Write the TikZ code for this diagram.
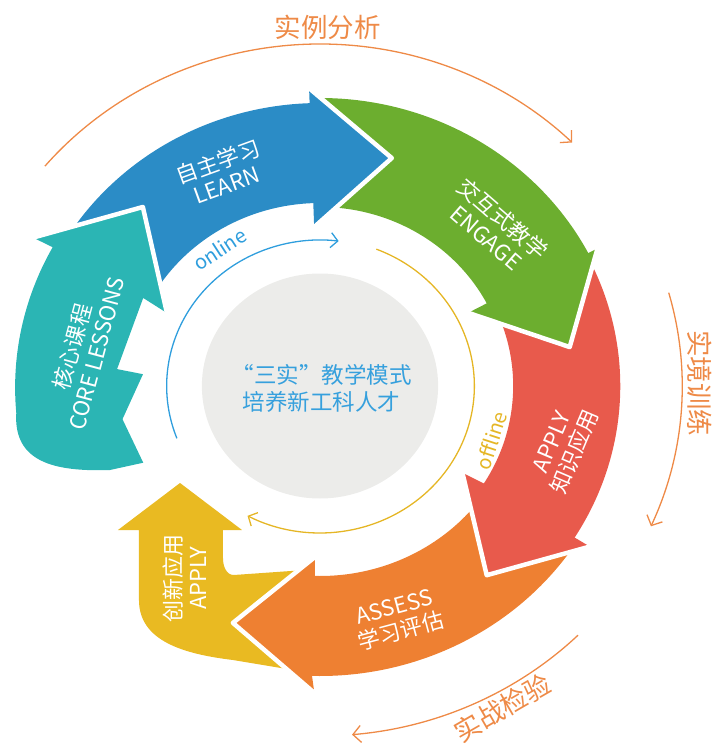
\documentclass[tikz,border=0pt]{standalone}
\usepackage{fontspec}
\setmainfont{Noto Sans CJK SC}
\usetikzlibrary{arrows.meta}

\definecolor{learnblue}{HTML}{2B8CC6}
\definecolor{engagegreen}{HTML}{6CAE2F}
\definecolor{applyred}{HTML}{E85A4C}
\definecolor{assessorange}{HTML}{EE8032}
\definecolor{createyellow}{HTML}{E9BA22}
\definecolor{coreteal}{HTML}{2BB5B4}
\definecolor{loopor}{HTML}{EE8A47}
\definecolor{onblue}{HTML}{2F9EDD}
\definecolor{offyellow}{HTML}{E5B625}
\definecolor{midtext}{HTML}{36A0DD}
\definecolor{midgrey}{HTML}{ECECEA}

\tikzset{
  gap/.style={draw=white, line width=4.5pt, line join=round, line cap=round},
  lbl/.style={text=white, font=\fontsize{22}{25}\selectfont, align=center, inner sep=0pt},
  looparc/.style={draw=loopor, line width=1.3pt, -{Straight Barb[length=8pt,width=17pt]}},
  looplbl/.style={text=loopor, font=\fontsize{26.5}{28}\selectfont, inner sep=0pt},
  modearc/.style={line width=1.3pt, -{Straight Barb[length=7pt,width=15pt]}},
  modelbl/.style={font=\fontsize{20}{22}\selectfont, inner sep=0pt},
}

\begin{document}
\begin{tikzpicture}[x=1.05pt, y=1pt]
    \useasboundingbox (-304.76,-359) rectangle (380,386);

    % middle disc
    \fill[midgrey] (0,0) circle[radius=112.5];
    \node (centre) [text=midtext, font=\fontsize{22.5}{27}\selectfont, align=left, inner sep=0pt] at (7,-2) {\kern-0.5em“三实”教学模式\\培养新工科人才};

    % arrow bodies
    \fill[learnblue] (151:283) arc[start angle=151, end angle=90.5, radius=283] -- (90.5:183) arc[start angle=90.5, end angle=151, radius=183] -- cycle;
    \fill[engagegreen] (91:288) arc[start angle=91, end angle=26, radius=288] -- (26:179) arc[start angle=26, end angle=91, radius=179] -- cycle;
    \fill[applyred] (26.5:286) arc[start angle=26.5, end angle=-33.5, radius=286] -- (-33.5:184) arc[start angle=-33.5, end angle=26.5, radius=184] -- cycle;
    \fill[assessorange] (-33:290) arc[start angle=-33, end angle=-93, radius=290] -- (-93:190) arc[start angle=-93, end angle=-33, radius=190] -- cycle;
    \fill[createyellow] (-14.3,-184) -- (-82,-189) to[out=180, in=-90] (-92.4,-172) -- (-92.4,-144) -- (-74.3,-144)
        -- (-133.3,-97) -- (-192.4,-144) -- (-172.4,-144) -- (-172.4,-214)
        .. controls (-172.4,-255) and (-130,-268) .. (-82.9,-274) -- (-14.3,-286) -- cycle;
    \fill[coreteal] (204.5:185) -- (190:191) -- (176:169) -- (175:194) -- (152.4:190) -- (153.4:163)
        -- (133.3:246) -- (151.5:311) -- (151.4:290) arc[start angle=151.4, end angle=185, radius=293]
        .. controls (-292,-75) and (-255,-86) .. (-200,-84) -- cycle;

    % arrow heads
    \fill[learnblue] (92:283) -- (92:298) -- (73.3:238) -- (92:159) -- (92:183) -- cycle;
    \draw[gap] (92:298) -- (73.3:238) -- (92:159);
    \fill[engagegreen] (27.5:288) -- (27.5:298) -- (9.3:241) -- (27.4:159) -- (27.5:179) -- cycle;
    \draw[gap] (27.5:298) -- (9.3:241) -- (27.4:159);
    \fill[applyred] (-32:286) -- (-32:303) -- (-50:247) -- (-32.6:161) -- (-32:184) -- cycle;
    \draw[gap] (-32:303) -- (-50:247) -- (-32.6:161);
    \fill[assessorange] (-91.5:290) -- (-91:307) -- (-109.3:251) -- (-91.6:171) -- (-91.5:190) -- cycle;
    \draw[gap] (-91:307) -- (-109.3:251) -- (-91.6:171);
    \draw[gap] (153.4:163) -- (133.3:246) -- (151.5:311);

    % arrow labels
    \node (learn) [lbl, rotate=20] at (113.6:233) {自主学习\\LEARN};
    \node (engage) [lbl, rotate=-41] at (43.5:230) {交互式教学\\ENGAGE};
    \node (applyk) [lbl, rotate=67] at (-14.8:240) {APPLY\\知识应用};
    \node (assess) [lbl, rotate=15] at (-72.4:245) {ASSESS\\学习评估};
    \node (create) [lbl, rotate=90] at (-128.6,-192) {创新应用\\APPLY};
    \node (core) [lbl, rotate=75] at (170.9:228) {核心课程\\CORE LESSONS};

    % online / offline loops
    \draw[modearc, draw=onblue] (201:146) arc[start angle=201, end angle=83, radius=146];
    \draw[modearc, draw=offyellow] (68.6:147) arc[start angle=68.6, end angle=-118, radius=147];
    \node (online) [modelbl, text=onblue, rotate=33] at (125:167) {online};
    \node (offline) [modelbl, text=offyellow, rotate=72] at (-18.4:172) {offline};

    % outer loops
    \draw[looparc] (140:342) arc[start angle=140, end angle=45.4, radius=342];
    \draw[looparc] (15.7:345) arc[start angle=15.7, end angle=-24, radius=345];
    \draw[looparc] (-45.4:350) arc[start angle=-45.4, end angle=-85, radius=350];
    \node (casestudy) [looplbl] at (7.6,359) {实例分析};
    \node (sitetrain) [looplbl, rotate=-90] at (361.9,3) {实境训练};
    \node (fieldtest) [looplbl, rotate=30] at (-61.6:366) {实战检验};
\end{tikzpicture}
\end{document}
